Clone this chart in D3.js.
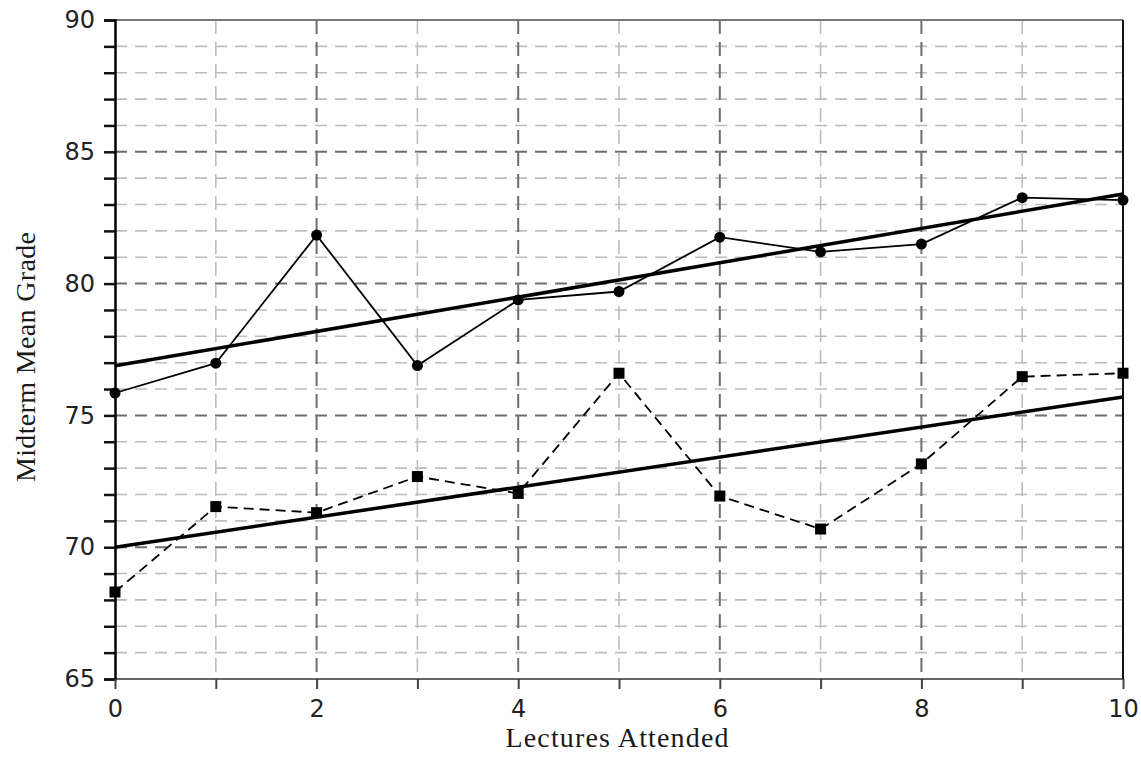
<!DOCTYPE html>
<html><head><meta charset="utf-8">
<script src="https://cdn.jsdelivr.net/npm/d3@7"></script>
<style>
html,body{margin:0;padding:0;background:#fff;}
svg{display:block;}
</style></head>
<body>
<svg id="chart" width="1141" height="762"></svg>
<script>
// Data
const lectures = [0,1,2,3,4,5,6,7,8,9,10];
const seriesCircle = [75.85,76.98,81.84,76.89,79.38,79.70,81.76,81.20,81.50,83.26,83.17];
const seriesSquare = [68.30,71.54,71.31,72.68,72.04,76.60,71.94,70.69,73.16,76.47,76.60];
const xTickLabels = [0,2,4,6,8,10];
const yTickLabels = [65,70,75,80,85,90];
const xTitle = "Lectures Attended";
const yTitle = "Midterm Mean Grade";

const svg = d3.select("#chart");
const x = d3.scaleLinear().domain([0,10]).range([115,1123]);
const y = d3.scaleLinear().domain([65,90]).range([679,20]);

// grid
const g = svg.append("g");
d3.range(66,90).forEach(v=>{
  const major = v%5===0;
  g.append("line").attr("x1",x(0)).attr("x2",x(10)).attr("y1",y(v)).attr("y2",y(v))
   .attr("stroke", major?"#6e6e6e":"#bdbdbd").attr("stroke-width", major?2:1.6)
   .attr("stroke-dasharray","12,8");
});
d3.range(1,10).forEach(v=>{
  const major = v%2===0;
  g.append("line").attr("x1",x(v)).attr("x2",x(v)).attr("y1",y(90)).attr("y2",y(65))
   .attr("stroke", major?"#6e6e6e":"#bdbdbd").attr("stroke-width", major?2:1.6)
   .attr("stroke-dasharray","14,8");
});

// borders
svg.append("line").attr("x1",x(0)).attr("x2",x(10)).attr("y1",y(90)).attr("y2",y(90)).attr("stroke","#777").attr("stroke-width",2);
svg.append("line").attr("x1",x(0)).attr("x2",x(10)).attr("y1",y(65)).attr("y2",y(65)).attr("stroke","#666").attr("stroke-width",2);
svg.append("line").attr("x1",x(10)).attr("x2",x(10)).attr("y1",y(90)).attr("y2",y(65)).attr("stroke","#111").attr("stroke-width",2);

// axes
const yAxis = d3.axisLeft(y).tickValues(d3.range(65,91)).tickSize(11).tickPadding(9)
  .tickFormat(d=> yTickLabels.includes(d)? d : "");
const ya = svg.append("g").attr("transform",`translate(${x(0)},0)`).call(yAxis);
ya.select(".domain").attr("stroke","#000").attr("stroke-width",2.5);
ya.selectAll(".tick line").attr("stroke","#111").attr("stroke-width",2.5);
ya.selectAll("text").attr("font-family","DejaVu Sans").attr("font-size",24).attr("fill","#222");

const xAxis = d3.axisBottom(x).tickValues(d3.range(0,11)).tickSize(10).tickPadding(11)
  .tickFormat(d=> xTickLabels.includes(d)? d : "");
const xa = svg.append("g").attr("transform",`translate(0,${y(65)})`).call(xAxis);
xa.select(".domain").remove();
xa.selectAll(".tick line").attr("stroke","#444").attr("stroke-width",2);
xa.selectAll("text").attr("font-family","DejaVu Sans").attr("font-size",24).attr("fill","#222");

// regression lines
function regress(xs, ys){
  const n=xs.length, mx=d3.mean(xs), my=d3.mean(ys);
  let sxy=0,sxx=0; for(let i=0;i<n;i++){sxy+=(xs[i]-mx)*(ys[i]-my); sxx+=(xs[i]-mx)**2;}
  const b=sxy/sxx, a=my-b*mx; return [[0,a],[10,a+b*10]];
}
const line = d3.line().x(d=>x(d[0])).y(d=>y(d[1]));
const ptsC = lectures.map((l,i)=>[l,seriesCircle[i]]);
const ptsS = lectures.map((l,i)=>[l,seriesSquare[i]]);

svg.append("path").attr("d",line(regress(lectures,seriesCircle))).attr("fill","none").attr("stroke","#000").attr("stroke-width",3.5);
svg.append("path").attr("d",line(regress(lectures,seriesSquare))).attr("fill","none").attr("stroke","#000").attr("stroke-width",3.5);

svg.append("path").attr("d",line(ptsC)).attr("fill","none").attr("stroke","#000").attr("stroke-width",1.8);
svg.append("path").attr("d",line(ptsS)).attr("fill","none").attr("stroke","#000").attr("stroke-width",1.8).attr("stroke-dasharray","10,6");

svg.append("g").selectAll("circle").data(ptsC).join("circle")
  .attr("cx",d=>x(d[0])).attr("cy",d=>y(d[1])).attr("r",5.5).attr("fill","#000");
svg.append("g").selectAll("rect").data(ptsS).join("rect")
  .attr("x",d=>x(d[0])-5.5).attr("y",d=>y(d[1])-5.5).attr("width",11).attr("height",11).attr("fill","#000");

// titles
svg.append("text").attr("x",617).attr("y",747).attr("text-anchor","middle")
  .attr("font-family","Liberation Serif").attr("font-size",28).attr("fill","#1a1a1a")
  .attr("textLength",223).attr("lengthAdjust","spacing").text(xTitle);
svg.append("text").attr("transform","translate(35,357) rotate(-90)").attr("text-anchor","middle")
  .attr("font-family","Liberation Serif").attr("font-size",28).attr("fill","#1a1a1a")
  .attr("textLength",250).attr("lengthAdjust","spacing").text(yTitle);
</script>
</body></html>
